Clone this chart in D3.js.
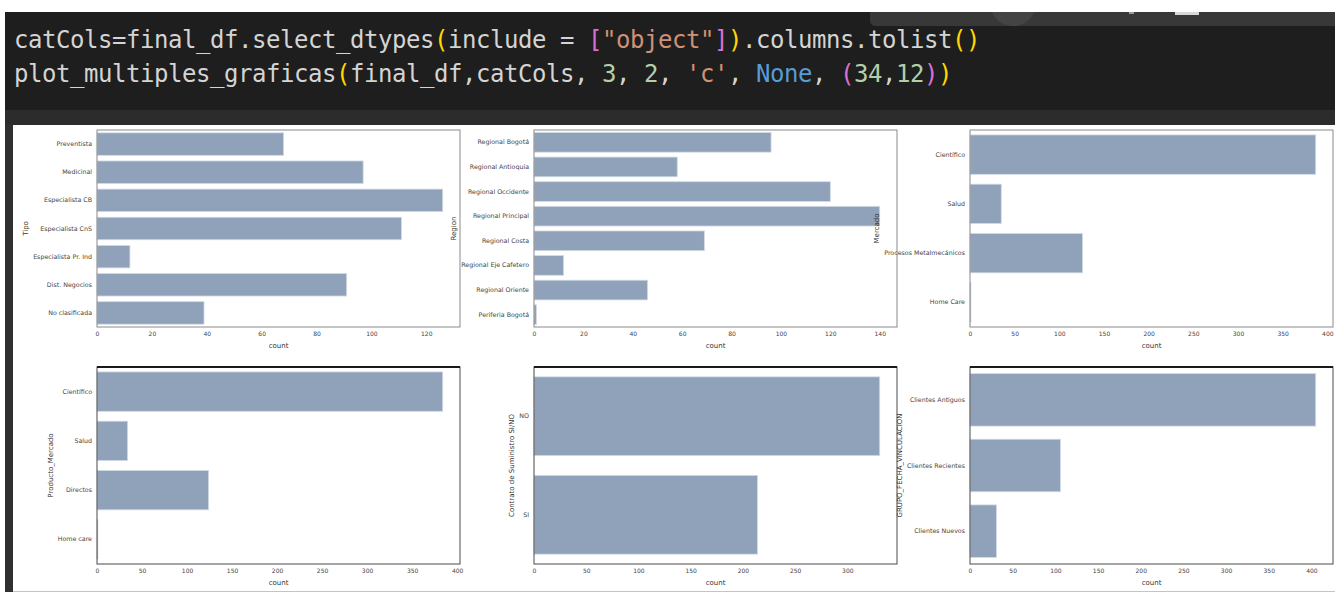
<!DOCTYPE html>
<html>
<head>
<meta charset="utf-8">
<script src="https://cdn.jsdelivr.net/npm/d3@7"></script>
<style>
  html, body { margin: 0; padding: 0; background: #fff; }
  svg { display: block; }
  .code { white-space: pre; }
</style>
</head>
<body>
<svg id="fig" width="1335" height="592"></svg>
<script>
// notebook cell screenshot: code on top, 3x2 seaborn countplots below

// code lines, as [text, colour] tokens
var codeLine1 = [
  ["catCols=final_df.select_dtypes", "#d4d4d4"], ["(", "#ffd700"], ["include = ", "#d4d4d4"],
  ["[", "#da70d6"], ["\"object\"", "#ce9178"], ["]", "#da70d6"], [")", "#ffd700"],
  [".columns.tolist", "#d4d4d4"], ["()", "#ffd700"]
];
var codeLine2 = [
  ["plot_multiples_graficas", "#d4d4d4"], ["(", "#ffd700"], ["final_df,catCols, ", "#d4d4d4"],
  ["3", "#b5cea8"], [", ", "#d4d4d4"], ["2", "#b5cea8"], [", ", "#d4d4d4"], ["'c'", "#ce9178"],
  [", ", "#d4d4d4"], ["None", "#569cd6"], [", ", "#d4d4d4"], ["(", "#da70d6"], ["34", "#b5cea8"],
  [",", "#d4d4d4"], ["12", "#b5cea8"], [")", "#da70d6"], [")", "#ffd700"]
];

// data
var tipoCats = ["Preventista", "Medicinal", "Especialista CB", "Especialista CnS", "Especialista Pr. Ind", "Dist. Negocios", "No clasificada"];
var tipoCounts = [68, 97, 126, 111, 12, 91, 39];
var tipoTicks = [0, 20, 40, 60, 80, 100, 120];

var regionCats = ["Regional Bogotá", "Regional Antioquia", "Regional Occidente", "Regional Principal", "Regional Costa", "Regional Eje Cafetero", "Regional Oriente", "Periferia Bogotá"];
var regionCounts = [96, 58, 120, 140, 69, 12, 46, 1];
var regionTicks = [0, 20, 40, 60, 80, 100, 120, 140];

var mercadoCats = ["Científico", "Salud", "Procesos Metalmecánicos", "Home Care"];
var mercadoCounts = [387, 35, 126, 1];
var mercadoTicks = [0, 50, 100, 150, 200, 250, 300, 350, 400];

var productoCats = ["Científico", "Salud", "Directos", "Home care"];
var productoCounts = [384, 34, 124, 1];
var productoTicks = [0, 50, 100, 150, 200, 250, 300, 350, 400];

var contratoCats = ["NO", "SI"];
var contratoCounts = [331, 214];
var contratoTicks = [0, 50, 100, 150, 200, 250, 300];

var grupoCats = ["Clientes Antiguos", "Clientes Recientes", "Clientes Nuevos"];
var grupoCounts = [405, 106, 31];
var grupoTicks = [0, 50, 100, 150, 200, 250, 300, 350, 400];

var svg = d3.select("#fig");

// ---- editor chrome ----
svg.append("rect").attr("x", 5).attr("y", 12).attr("width", 1330).attr("height", 98).attr("fill", "#1e1e1e");

svg.append("clipPath").attr("id", "wclip")
  .append("rect").attr("x", 870).attr("y", 12).attr("width", 470).attr("height", 14);
svg.append("path")
  .attr("d", "M870,12 H1335 V26 H876 Q870,26 870,20 Z")
  .attr("fill", "#383838");
svg.append("circle").attr("cx", 1013).attr("cy", 3).attr("r", 23)
  .attr("fill", "#444").attr("clip-path", "url(#wclip)");
svg.append("rect").attr("x", 1175).attr("y", 12).attr("width", 24).attr("height", 3).attr("fill", "#d8d8d8");
svg.append("rect").attr("x", 1129).attr("y", 12).attr("width", 5).attr("height", 2).attr("fill", "#9a9a9a");

svg.append("rect").attr("x", 5).attr("y", 110).attr("width", 1330).attr("height", 15).attr("fill", "#2c2c2c");
svg.append("rect").attr("x", 5).attr("y", 125).attr("width", 8).attr("height", 467).attr("fill", "#303030");
svg.append("line").attr("x1", 13).attr("x2", 1335).attr("y1", 591.5).attr("y2", 591.5)
  .attr("stroke", "#c4c4c4").attr("stroke-width", 1);

// code text: one text per line, coloured tspans, ~14px per character
var codeX = 14;
[[codeLine1, 48], [codeLine2, 82]].forEach(function (ln) {
  var t = svg.append("text")
    .attr("class", "code")
    .attr("xml:space", "preserve")
    .attr("x", codeX)
    .attr("y", ln[1])
    .attr("font-family", "DejaVu Sans Mono, monospace")
    .attr("font-size", "24px")
    .attr("letter-spacing", "-0.45px");
  ln[0].forEach(function (tok) {
    t.append("tspan").attr("fill", tok[1]).text(tok[0]);
  });
});

// ---- the six countplots ----
var panels = [
  { cats: tipoCats, vals: tipoCounts, ticks: tipoTicks, ylab: "Tipo" },
  { cats: regionCats, vals: regionCounts, ticks: regionTicks, ylab: "Region" },
  { cats: mercadoCats, vals: mercadoCounts, ticks: mercadoTicks, ylab: "Mercado" },
  { cats: productoCats, vals: productoCounts, ticks: productoTicks, ylab: "Producto_Mercado" },
  { cats: contratoCats, vals: contratoCounts, ticks: contratoTicks, ylab: "Contrato de Suministro SI/NO" },
  { cats: grupoCats, vals: grupoCounts, ticks: grupoTicks, ylab: "GRUPO_FECHA_VINCULACION" }
];

var colX = [97, 534, 970], rowY = [130, 367];
var pw = 363, ph = 197;
var barColor = "#8fa2b9";

panels.forEach(function (p, i) {
  var col = i % 3, row = Math.floor(i / 3);
  var g = svg.append("g")
    .attr("transform", "translate(" + colX[col] + "," + rowY[row] + ")");

  var x = d3.scaleLinear()
    .domain([0, d3.max(p.vals) * 1.05])
    .range([0, pw]);
  var y = d3.scaleBand()
    .domain(p.cats)
    .range([0, ph])
    .paddingInner(0.2)
    .paddingOuter(0.1);

  g.selectAll(".bar")
    .data(p.cats)
    .enter().append("rect")
    .attr("class", "bar")
    .attr("x", x(0))
    .attr("y", function (d) { return y(d); })
    .attr("width", function (d, j) { return x(p.vals[j]) - x(0); })
    .attr("height", y.bandwidth())
    .attr("fill", barColor)
    .attr("stroke", "#d3dbe5")
    .attr("stroke-width", 0.8);

  // frame
  g.append("rect")
    .attr("x", 0).attr("y", 0).attr("width", pw).attr("height", ph)
    .attr("fill", "none")
    .attr("stroke", row === 0 ? "#8a8a8a" : "#4a4a4a")
    .attr("stroke-width", 1);
  if (row === 1) {
    g.append("line")
      .attr("x1", 0).attr("x2", pw).attr("y1", 0).attr("y2", 0)
      .attr("stroke", "#1a1a1a").attr("stroke-width", 1.8);
  }

  var yAx = g.append("g")
    .call(d3.axisLeft(y).tickSize(0).tickPadding(5));
  yAx.select(".domain").remove();
  yAx.selectAll("text")
    .attr("font-family", "DejaVu Sans, sans-serif")
    .attr("font-size", "6.3px")
    .attr("fill", "#444");

  var xAx = g.append("g")
    .attr("transform", "translate(0," + ph + ")")
    .call(d3.axisBottom(x).tickValues(p.ticks).tickSize(0).tickPadding(5));
  xAx.select(".domain").remove();
  xAx.selectAll("text")
    .attr("font-family", "DejaVu Sans, sans-serif")
    .attr("font-size", "6px")
    .attr("fill", "#444");

  g.append("text")
    .attr("x", pw / 2)
    .attr("y", ph + 21)
    .attr("text-anchor", "middle")
    .attr("font-family", "DejaVu Sans, sans-serif")
    .attr("font-size", "7px")
    .attr("fill", "#333")
    .text("count");

  // y label sits just left of the widest category label
  var bb = yAx.node().getBBox();
  g.append("text")
    .attr("transform", "translate(" + (bb.x - 5) + "," + (ph / 2) + ") rotate(-90)")
    .attr("text-anchor", "middle")
    .attr("font-family", "DejaVu Sans, sans-serif")
    .attr("font-size", "7px")
    .attr("fill", "#333")
    .text(p.ylab);
});
</script>
</body>
</html>
